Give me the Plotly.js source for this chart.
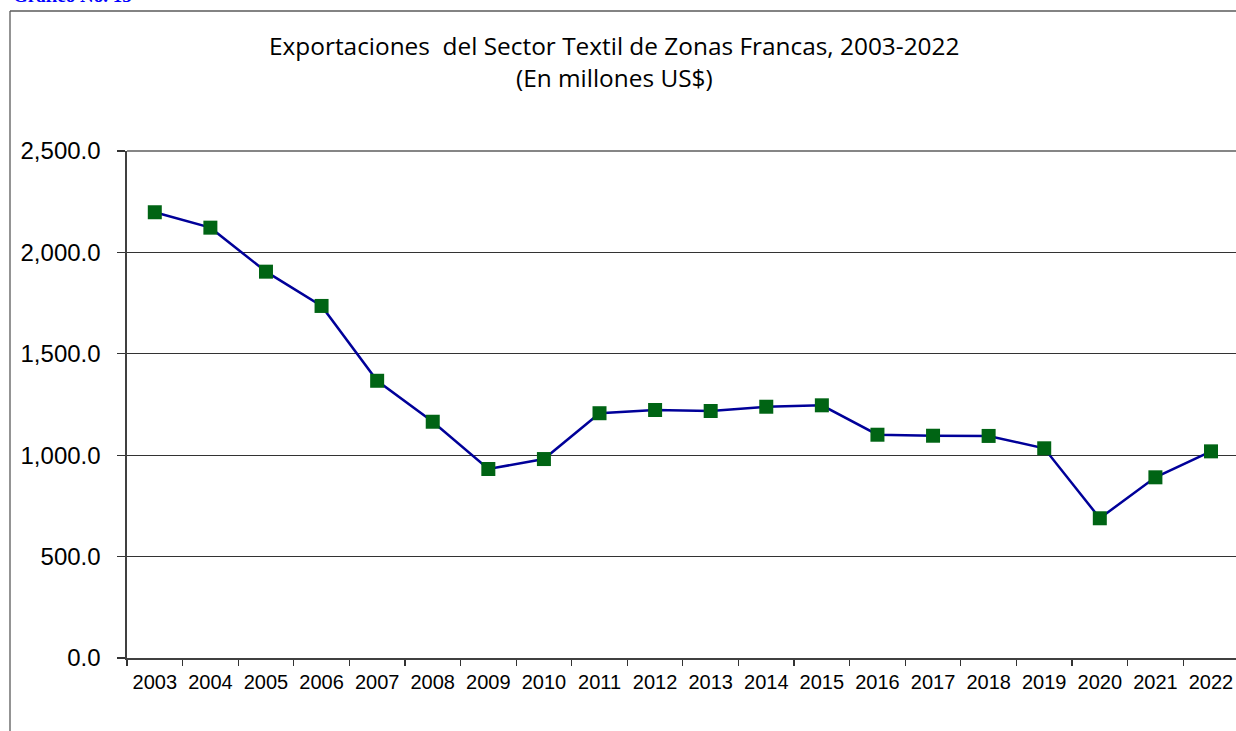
<!DOCTYPE html>
<html>
<head>
<meta charset="utf-8">
<script src="https://cdn.plot.ly/plotly-3.0.1.min.js"></script>
<style>
html,body{margin:0;padding:0;background:#fff;overflow:hidden;}
#chart{width:1236px;height:731px;}
</style>
</head>
<body>
<div id="chart"></div>
<script>
const years = ["2003","2004","2005","2006","2007","2008","2009","2010","2011","2012","2013","2014","2015","2016","2017","2018","2019","2020","2021","2022"];
const exportsMUSD = [2198, 2122, 1905, 1736, 1367, 1165, 932, 981, 1207, 1223, 1218, 1239, 1246, 1101, 1096, 1095, 1034, 689, 891, 1019];
const yTicks = [0, 500, 1000, 1500, 2000, 2500];
const titleLine1 = "Exportaciones  del Sector Textil de Zonas Francas, 2003-2022";
const titleLine2 = "(En millones US$)";
const captionText = "<b>Gráfico No. 15</b>";

const W = 1236, H = 731;
const L = 127, T = 151, B = 73, R = 0;
const pw = W - L - R, ph = H - T - B;
const px = x => (x - L) / pw;
const py = y => (H - B - y) / ph;

const trace = {
  x: years,
  y: exportsMUSD,
  type: 'scatter',
  mode: 'lines+markers',
  line: {color: '#000099', width: 2.5},
  marker: {symbol: 'square', size: 14, color: '#006414', line: {width: 0}},
  hoverinfo: 'x+y'
};

const titleFont = {family: '"Open Sans", Lato, sans-serif', size: 24.4, color: '#000'};

const layout = {
  width: W, height: H,
  margin: {l: L, r: R, t: T, b: B, pad: 0},
  paper_bgcolor: '#fff',
  plot_bgcolor: '#fff',
  showlegend: false,
  xaxis: {
    type: 'category',
    range: [-0.5, 19.45],
    tickson: 'boundaries',
    ticks: 'outside', ticklen: 6, tickwidth: 1.2, tickcolor: '#333',
    ticklabelstandoff: 5,
    showgrid: false, zeroline: false,
    showline: true, linecolor: '#404040', linewidth: 1.6,
    tickfont: {family: '"Liberation Sans", Arial, sans-serif', size: 20, color: '#000'},
    fixedrange: true
  },
  yaxis: {
    range: [0, 2500],
    tickvals: yTicks,
    tickformat: ',.1f',
    ticks: 'outside', ticklen: 8, tickwidth: 1.2, tickcolor: '#333',
    ticklabelstandoff: 12,
    showgrid: true, gridcolor: '#333', gridwidth: 1,
    zeroline: false,
    showline: true, linecolor: '#404040', linewidth: 1.6,
    tickfont: {family: '"Liberation Sans", Arial, sans-serif', size: 24, color: '#000'},
    fixedrange: true
  },
  shapes: [
    {type: 'line', xref: 'paper', yref: 'paper', x0: 0, x1: 1.01, y0: 1, y1: 1,
     line: {color: '#868686', width: 2}},
    {type: 'line', xref: 'paper', yref: 'paper', x0: px(10), x1: px(10), y0: py(11), y1: py(745),
     line: {color: '#5a5a5a', width: 1.3}},
    {type: 'line', xref: 'paper', yref: 'paper', x0: px(10), x1: px(1250), y0: py(11), y1: py(11),
     line: {color: '#5a5a5a', width: 1.3}}
  ],
  annotations: [
    {text: titleLine1, xref: 'paper', yref: 'paper', x: px(614), y: py(45),
     xanchor: 'center', yanchor: 'middle', showarrow: false, font: titleFont},
    {text: titleLine2, xref: 'paper', yref: 'paper', x: px(614), y: py(78),
     xanchor: 'center', yanchor: 'middle', showarrow: false, font: titleFont},
    {text: captionText, xref: 'paper', yref: 'paper', x: px(11), y: py(-5),
     xanchor: 'left', yanchor: 'middle', showarrow: false,
     font: {family: '"Liberation Serif", "Times New Roman", serif', size: 19, color: '#0000FF'}}
  ]
};

Plotly.newPlot('chart', [trace], layout, {displayModeBar: false, staticPlot: true});
</script>
</body>
</html>
